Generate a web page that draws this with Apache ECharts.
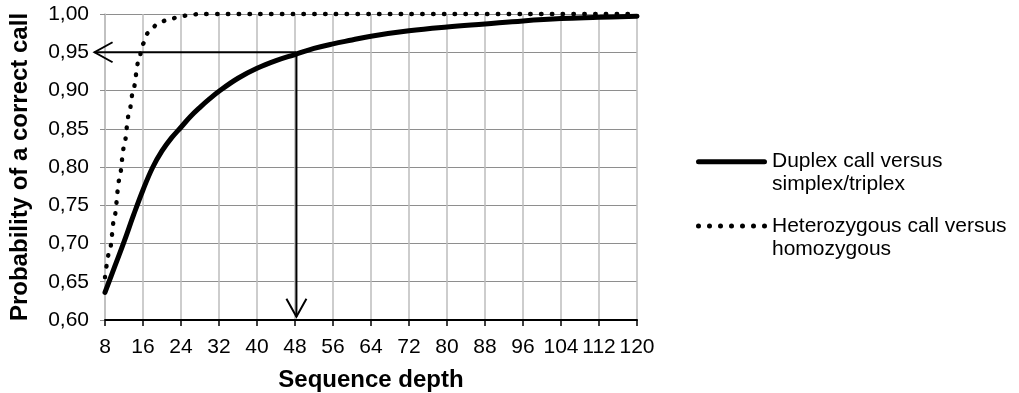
<!DOCTYPE html>
<html>
<head>
<meta charset="utf-8">
<style>html,body{margin:0;padding:0;background:#fff}#c{width:1019px;height:393px}</style>
<script src="https://cdn.jsdelivr.net/npm/echarts@6/dist/echarts.min.js"></script>
</head>
<body>
<div id="c"></div>
<script>
// Data
var duplexDepth = [8, 10, 12, 14, 16, 18, 20, 22, 24, 26, 28, 30, 32, 36, 40, 44, 48, 52, 56, 60, 64, 72, 80, 88, 96, 104, 112, 120];
var duplexProb  = [0.636, 0.669, 0.702, 0.737, 0.770, 0.799, 0.821, 0.838, 0.852, 0.866, 0.878, 0.889, 0.899, 0.916, 0.929, 0.939, 0.947, 0.955, 0.961, 0.966, 0.971, 0.978, 0.983, 0.987, 0.991, 0.994, 0.9956, 0.9972];
var heteroDepth = [8, 9, 10, 11, 12, 13, 14, 15, 16, 17, 18, 19, 20, 21, 22, 24, 26, 28, 32, 40, 48, 56, 64, 72, 80, 88, 96, 104, 112, 120];
var heteroProb  = [0.656, 0.691, 0.735, 0.783, 0.826, 0.868, 0.902, 0.937, 0.961, 0.975, 0.982, 0.987, 0.990, 0.9925, 0.994, 0.997, 0.999, 1, 1, 1, 1, 1, 1, 1, 1, 1, 1, 1, 1, 1];
var seriesNames = ['Duplex call versus\nsimplex/triplex', 'Heterozygous call versus\nhomozygous'];
var xTitle = 'Sequence depth';
var yTitle = 'Probability of a correct call';
// annotation arrows: from the curve point (48, 0.95) to the axes
var arrowX = 48.3, arrowY = 0.95;
var arrowTipX = 5.8, arrowTipY = 0.6043;

function zip(a, b) { return a.map(function (v, i) { return [v, b[i]]; }); }

var FONT = '"Liberation Sans", Arial, sans-serif';
// legend icons: a thick rounded bar and a row of seven dots (71 x 5 box)
var solidIcon = 'path://M2.5,0 L68.5,0 A2.5,2.5 0 0 1 68.5,5 L2.5,5 A2.5,2.5 0 0 1 2.5,0 Z';
var dotIcon = (function () {
  var p = 'path://';
  for (var i = 0; i < 7; i++) {
    var cx = 2.5 + i * 11;
    p += 'M' + (cx - 2.5) + ',2.5 A2.5,2.5 0 1 0 ' + (cx + 2.5) + ',2.5 A2.5,2.5 0 1 0 ' + (cx - 2.5) + ',2.5 Z ';
  }
  return p;
})();

var chart = echarts.init(document.getElementById('c'), null, {renderer: 'canvas'});
chart.setOption({
  animation: false,
  backgroundColor: '#fff',
  textStyle: {fontFamily: FONT},
  grid: {left: 105, right: 382, top: 14, bottom: 73, containLabel: false, outerBoundsMode: 'none'},
  xAxis: {
    type: 'value', min: 8, max: 120, interval: 8,
    name: xTitle, nameLocation: 'middle', nameGap: 48,
    nameTextStyle: {fontSize: 24, fontWeight: 'bold', color: '#000', fontFamily: FONT},
    axisLine: {show: true, onZero: false, lineStyle: {color: '#000', width: 2}},
    axisTick: {show: true, length: 6, lineStyle: {color: '#000', width: 1.5}},
    axisLabel: {fontSize: 21, color: '#000', margin: 17, fontFamily: FONT},
    splitLine: {show: true, lineStyle: {color: '#bdbdbd', width: 1.5}}
  },
  yAxis: {
    type: 'value', min: 0.6, max: 1.0, interval: 0.05,
    name: yTitle, nameLocation: 'middle', nameGap: 73,
    nameTextStyle: {fontSize: 24, fontWeight: 'bold', color: '#000', fontFamily: FONT},
    axisLine: {show: true, lineStyle: {color: '#bdbdbd', width: 1.5}},
    axisTick: {show: true, length: 5, lineStyle: {color: '#8e8e8e', width: 1}},
    axisLabel: {fontSize: 21, color: '#000', margin: 16, fontFamily: FONT,
      formatter: function (v) { return v.toFixed(2).replace('.', ','); }},
    splitLine: {show: true, lineStyle: {color: '#8e8e8e', width: 1.2}}
  },
  legend: {
    orient: 'vertical', left: 696, top: 127.2, padding: 0,
    itemWidth: 71, itemHeight: 5, itemGap: -4.7,
    data: [{name: seriesNames[0], icon: solidIcon}, {name: seriesNames[1], icon: dotIcon}],
    itemStyle: {color: '#000', borderWidth: 0},
    formatter: function (n) { return '\n' + n; },
    textStyle: {fontSize: 21, lineHeight: 23, color: '#000', fontFamily: FONT}
  },
  series: [
    {
      name: seriesNames[0], type: 'line', data: zip(duplexDepth, duplexProb),
      symbol: 'none', smooth: 0.4, clip: false, z: 3,
      lineStyle: {color: '#000', width: 5, cap: 'round'},
      itemStyle: {color: '#000'}
    },
    {
      name: seriesNames[1], type: 'line', data: zip(heteroDepth, heteroProb),
      symbol: 'none', smooth: 0.3, smoothMonotone: 'x', clip: false, z: 2,
      lineStyle: {color: '#000', width: 4.4, type: [0.5, 10.3], cap: 'round'},
      itemStyle: {color: '#000'}
    }
  ]
});

function drawArrows() {
  var o = chart.convertToPixel({gridIndex: 0}, [arrowX, arrowY]);
  var h = chart.convertToPixel({gridIndex: 0}, [arrowTipX, arrowY]);
  var v = chart.convertToPixel({gridIndex: 0}, [arrowX, arrowTipY]);
  var st = {stroke: '#000', lineWidth: 2, fill: null};
  chart.setOption({
    graphic: [
      {type: 'polyline', z: 10, shape: {points: [o, h]}, style: st},
      {type: 'polyline', z: 10, shape: {points: [[h[0] + 18, h[1] - 10], h, [h[0] + 18, h[1] + 10]]}, style: st},
      {type: 'polyline', z: 10, shape: {points: [o, v]}, style: st},
      {type: 'polyline', z: 10, shape: {points: [[v[0] - 10, v[1] - 18], v, [v[0] + 10, v[1] - 18]]}, style: st}
    ]
  });
}
drawArrows();
</script>
</body>
</html>
